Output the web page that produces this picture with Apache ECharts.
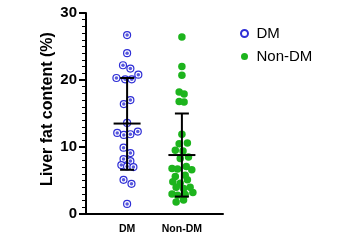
<!DOCTYPE html>
<html><head><meta charset="utf-8">
<script src="https://cdn.jsdelivr.net/npm/echarts@6/dist/echarts.min.js"></script>
<style>html,body{margin:0;padding:0;background:#fff}#c{width:351px;height:243px}</style>
</head><body><div id="c"></div>
<script>
var categories = ['DM', 'Non-DM'];
var yTicks = [0, 10, 20, 30];
var dmValues  = [26.7,24.0,22.2,21.7,20.3,20.1,20.1,20.8,17.0,16.4,13.6,12.1,11.8,11.9,12.3,9.9,9.1,8.2,7.9,7.3,7.1,7.0,5.1,4.5,1.5];
var dmJitter  = [0,0,-0.15,0.12,-0.39,-0.07,0.17,0.41,0.12,-0.12,0,-0.36,-0.12,0.12,0.39,-0.13,0.12,-0.13,0.12,-0.21,0,0.23,-0.13,0.16,0];
var nonValues = [26.4,22.0,20.7,18.2,17.9,16.8,16.7,11.9,10.5,10.6,9.5,9.4,8.3,8.5,6.8,6.7,7.1,6.6,5.6,5.8,4.8,4.6,5.1,4.0,3.8,4.0,3.0,2.8,2.9,3.2,1.8,2.1];
var nonJitter = [0,0,0,-0.1,0.08,-0.1,0.08,0,-0.1,0.2,-0.24,0.04,-0.06,0.24,-0.36,-0.16,0.16,0.36,-0.24,0.12,-0.33,-0.06,0.2,-0.21,0.06,0.3,-0.36,-0.16,0.12,0.4,-0.21,0.06];
var groupMean = [13.5, 8.8];
var groupLow  = [6.6, 2.6];
var groupHigh = [20.3, 15.0];

var axisCats = ['', categories[0], '', categories[1], ''];
var groupPos = [1.5, 3.5];
function pts(vals, jit, g){ return vals.map(function(v,i){ return [groupPos[g]+jit[i], v]; }); }
var errData = groupMean.map(function(m,i){ return [groupPos[i], m, groupLow[i], groupHigh[i]]; });

var blue = '#2f2fd6', green = '#1db41d';
var chart = echarts.init(document.getElementById('c'));
chart.setOption({
  animation: false,
  grid: {left: 86, right: 128, top: 13, bottom: 29},
  legend: {
    orient: 'vertical', left: 235, top: 21, itemWidth: 14, itemHeight: 7, itemGap: 8,
    textStyle: {fontFamily: 'Liberation Sans, Arial', fontSize: 15, color: '#000'},
    data: [{name: 'DM', icon: 'circle'}, {name: 'Non-DM', icon: 'circle'}]
  },
  xAxis: [{
    type: 'category', data: axisCats, boundaryGap: true,
    axisLine: {lineStyle: {color: '#000', width: 2}},
    axisTick: {alignWithLabel: true, length: 7, lineStyle: {color: '#000', width: 2},
      interval: function(i, v){ return v !== ''; }},
    axisLabel: {interval: function(i, v){ return v !== ''; }, margin: 10,
      fontFamily: 'Liberation Sans, Arial', fontWeight: 'bold', fontSize: 10.5, color: '#000'}
  }, {
    type: 'value', min: 0, max: 5, show: false
  }],
  yAxis: {
    type: 'value', min: yTicks[0], max: yTicks[yTicks.length-1], interval: 10,
    name: 'Liver fat content (%)', nameLocation: 'middle', nameGap: 30,
    nameTextStyle: {fontFamily: 'Liberation Sans, Arial', fontWeight: 'bold', fontSize: 16, color: '#000', padding: [0,0,0,9]},
    axisLine: {show: true, lineStyle: {color: '#000', width: 2}},
    axisTick: {show: true, length: 7, lineStyle: {color: '#000', width: 2}},
    minorTick: {show: true, splitNumber: 10, length: 4, lineStyle: {color: '#000', width: 1}},
    splitLine: {show: false},
    axisLabel: {margin: 9, fontFamily: 'Liberation Sans, Arial', fontWeight: 'bold', fontSize: 15, color: '#000'}
  },
  series: [{
    name: 'DM', type: 'scatter', xAxisIndex: 1, symbolSize: 7,
    itemStyle: {color: '#fff', borderColor: blue, borderWidth: 1.2, opacity: 1},
    data: pts(dmValues, dmJitter, 0), z: 3
  }, {
    name: 'DMinner', type: 'scatter', xAxisIndex: 1, symbolSize: 3.5,
    itemStyle: {color: blue}, data: pts(dmValues, dmJitter, 0), z: 4, legendHoverLink: false
  }, {
    name: 'Non-DM', type: 'scatter', xAxisIndex: 1, symbolSize: 7.5,
    itemStyle: {color: green, opacity: 1},
    data: pts(nonValues, nonJitter, 1), z: 3
  }, {
    type: 'custom', xAxisIndex: 1, z: 10, data: errData,
    renderItem: function(params, api){
      var x = api.value(0);
      var c = api.coord([x, api.value(1)]);
      var lo = api.coord([x, api.value(2)]);
      var hi = api.coord([x, api.value(3)]);
      var st = {stroke: '#000', lineWidth: 2};
      return {type: 'group', children: [
        {type: 'line', shape: {x1: c[0], y1: hi[1], x2: c[0], y2: lo[1]}, style: st},
        {type: 'line', shape: {x1: c[0]-7, y1: hi[1], x2: c[0]+7, y2: hi[1]}, style: st},
        {type: 'line', shape: {x1: c[0]-7, y1: lo[1], x2: c[0]+7, y2: lo[1]}, style: st},
        {type: 'line', shape: {x1: c[0]-13.5, y1: c[1], x2: c[0]+13.5, y2: c[1]}, style: st}
      ]};
    }
  }]
});
</script></body></html>
